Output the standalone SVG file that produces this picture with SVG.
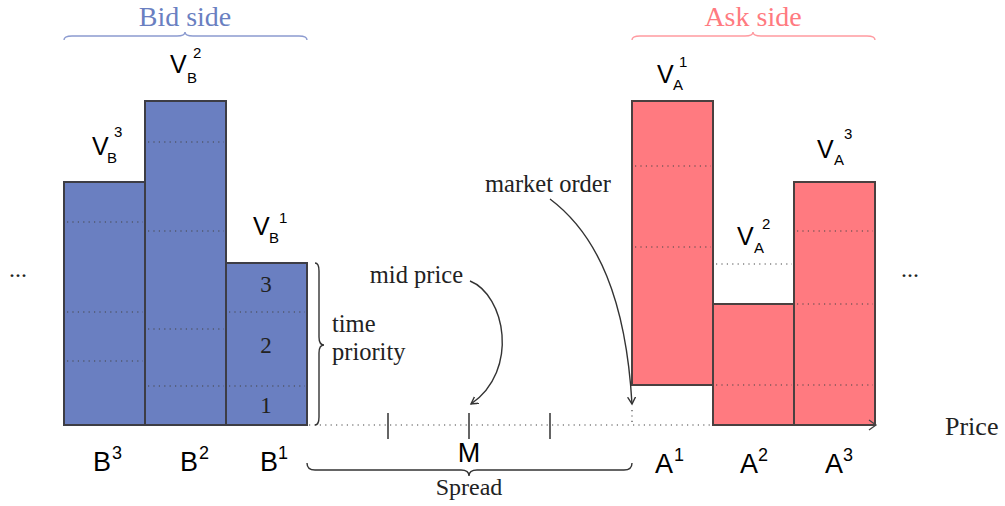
<svg xmlns="http://www.w3.org/2000/svg" width="1005" height="506" viewBox="0 0 1005 506">
<defs>
<style>
.bid{fill:#6A7FC1;stroke:#3d3d45;stroke-width:2}
.ask{fill:#FF7A80;stroke:#4a4040;stroke-width:2}
.dot{stroke:#444;stroke-width:1.2;stroke-dasharray:1.2 4.2;fill:none}
.sans{font-family:"Liberation Sans",Arial,sans-serif;fill:#000}
.serif{font-family:"Liberation Serif","Times New Roman",serif;fill:#222}
.brace{fill:none;stroke-width:1.4}
.conn{fill:none;stroke:#333;stroke-width:1.4}
</style>
<marker id="arr" markerWidth="10" markerHeight="10" refX="7" refY="4" orient="auto" markerUnits="userSpaceOnUse">
<path d="M0,0 L7,4 L0,8" fill="none" stroke="#333" stroke-width="1.4"/>
</marker>
</defs>
<rect width="1005" height="506" fill="#fff"/>

<g id="bid-side-label">
<text class="serif" x="185" y="26" font-size="28" text-anchor="middle" style="fill:#6A7FC1">Bid side</text>
<path class="brace" stroke="#8C9BD0" d="M64,40 Q64,36 72,36 L177,36 Q185,36 185,32 Q185,36 193,36 L299,36 Q307,36 307,40"/>
</g>
<g id="ask-side-label">
<text class="serif" x="753" y="26" font-size="28" text-anchor="middle" style="fill:#FF7A80">Ask side</text>
<path class="brace" stroke="#FF9AA0" d="M632,40 Q632,36 640,36 L745,36 Q753,36 753,32 Q753,36 761,36 L867,36 Q875,36 875,40"/>
</g>

<g id="bar-B3">
<rect class="bid" x="64" y="182" width="81" height="243"/>
<path class="dot" d="M67,222H143M67,312H143M67,361H143"/>
</g>
<g id="bar-B2">
<rect class="bid" x="145" y="101" width="81" height="324"/>
<path class="dot" d="M148,142H224M148,231H224M148,329H224M148,386H224"/>
</g>
<g id="bar-B1">
<rect class="bid" x="226" y="263" width="81" height="162"/>
<path class="dot" d="M229,312H305M229,386H305"/>
<text class="serif" x="266" y="292" font-size="23" text-anchor="middle">3</text>
<text class="serif" x="266" y="353" font-size="23" text-anchor="middle">2</text>
<text class="serif" x="266" y="413" font-size="23" text-anchor="middle">1</text>
</g>

<g id="bar-A1">
<rect class="ask" x="632" y="101" width="81" height="284"/>
<path class="dot" d="M635,166H711M635,247H711"/>
</g>
<g id="bar-A2">
<path class="dot" d="M716,264H792"/>
<rect class="ask" x="713" y="304" width="81" height="121"/>
<path class="dot" d="M716,385H792"/>
</g>
<g id="bar-A3">
<rect class="ask" x="794" y="182" width="81" height="243"/>
<path class="dot" d="M797,231H873M797,304H873M797,385H873"/>
</g>

<g id="volume-labels">
<text class="sans" x="92" y="155" font-size="25">V<tspan x="107" y="163" font-size="15">B</tspan><tspan x="114" y="137" font-size="15">3</tspan></text>
<text class="sans" x="170" y="73" font-size="25">V<tspan x="187" y="83" font-size="15">B</tspan><tspan x="193" y="58" font-size="15">2</tspan></text>
<text class="sans" x="253" y="235" font-size="25">V<tspan x="269" y="243" font-size="15">B</tspan><tspan x="279" y="223" font-size="15">1</tspan></text>
<text class="sans" x="657" y="83" font-size="25">V<tspan x="673" y="90" font-size="15">A</tspan><tspan x="679" y="67" font-size="15">1</tspan></text>
<text class="sans" x="737" y="245" font-size="25">V<tspan x="754" y="253" font-size="15">A</tspan><tspan x="762" y="229" font-size="15">2</tspan></text>
<text class="sans" x="817" y="158" font-size="25">V<tspan x="834" y="165" font-size="15">A</tspan><tspan x="844" y="139" font-size="15">3</tspan></text>
</g>

<g id="axis">
<path class="dot" d="M309,425H713M632,410V425"/>
<path d="M869,420 L876,425 L869,430" fill="none" stroke="#444" stroke-width="1.3"/>
<path d="M388,413V439M469,413V439M550,413V439" stroke="#333" stroke-width="1.5"/>
<text class="serif" x="945" y="435" font-size="26">Price</text>
</g>

<g id="price-labels">
<text class="sans" x="93" y="471" font-size="27">B<tspan x="112" y="459" font-size="18">3</tspan></text>
<text class="sans" x="180" y="471" font-size="27">B<tspan x="199" y="459" font-size="18">2</tspan></text>
<text class="sans" x="260" y="471" font-size="27">B<tspan x="278" y="459" font-size="18">1</tspan></text>
<text class="sans" x="655" y="473" font-size="27">A<tspan x="674" y="461" font-size="18">1</tspan></text>
<text class="sans" x="740" y="473" font-size="27">A<tspan x="758" y="461" font-size="18">2</tspan></text>
<text class="sans" x="825" y="473" font-size="27">A<tspan x="843" y="461" font-size="18">3</tspan></text>
<text class="sans" x="469" y="462" font-size="27" text-anchor="middle">M</text>
</g>

<g id="spread">
<path class="brace" stroke="#333" d="M307,463 Q307,470 315,470 L461,470 Q469,470 469,476 Q469,470 477,470 L624,470 Q632,470 632,463"/>
<text class="serif" x="469" y="495" font-size="24" text-anchor="middle">Spread</text>
</g>

<g id="time-priority">
<path class="brace" stroke="#333" d="M315,263 Q319,263 319,271 L319,337 Q319,345 324,345 Q319,345 319,353 L319,417 Q319,425 315,425"/>
<text class="serif" x="332" y="332" font-size="24.5">time</text>
<text class="serif" x="332" y="360" font-size="24.5">priority</text>
</g>

<g id="mid-price">
<text class="serif" x="463" y="283" font-size="24.5" text-anchor="end">mid price</text>
</g>
<g id="market-order">
<text class="serif" x="485" y="192" font-size="24.5">market order</text>
</g>
<g id="ellipses">
<text class="serif" x="9" y="277" font-size="24">...</text>
<text class="serif" x="901" y="277" font-size="24">...</text>
</g>

<g id="connectors">
<path class="conn" marker-end="url(#arr)" d="M470,281 C505,295 520,370 471,404"/>
<path class="conn" marker-end="url(#arr)" d="M550,199 C598,235 626,300 632,404"/>
</g>
</svg>
